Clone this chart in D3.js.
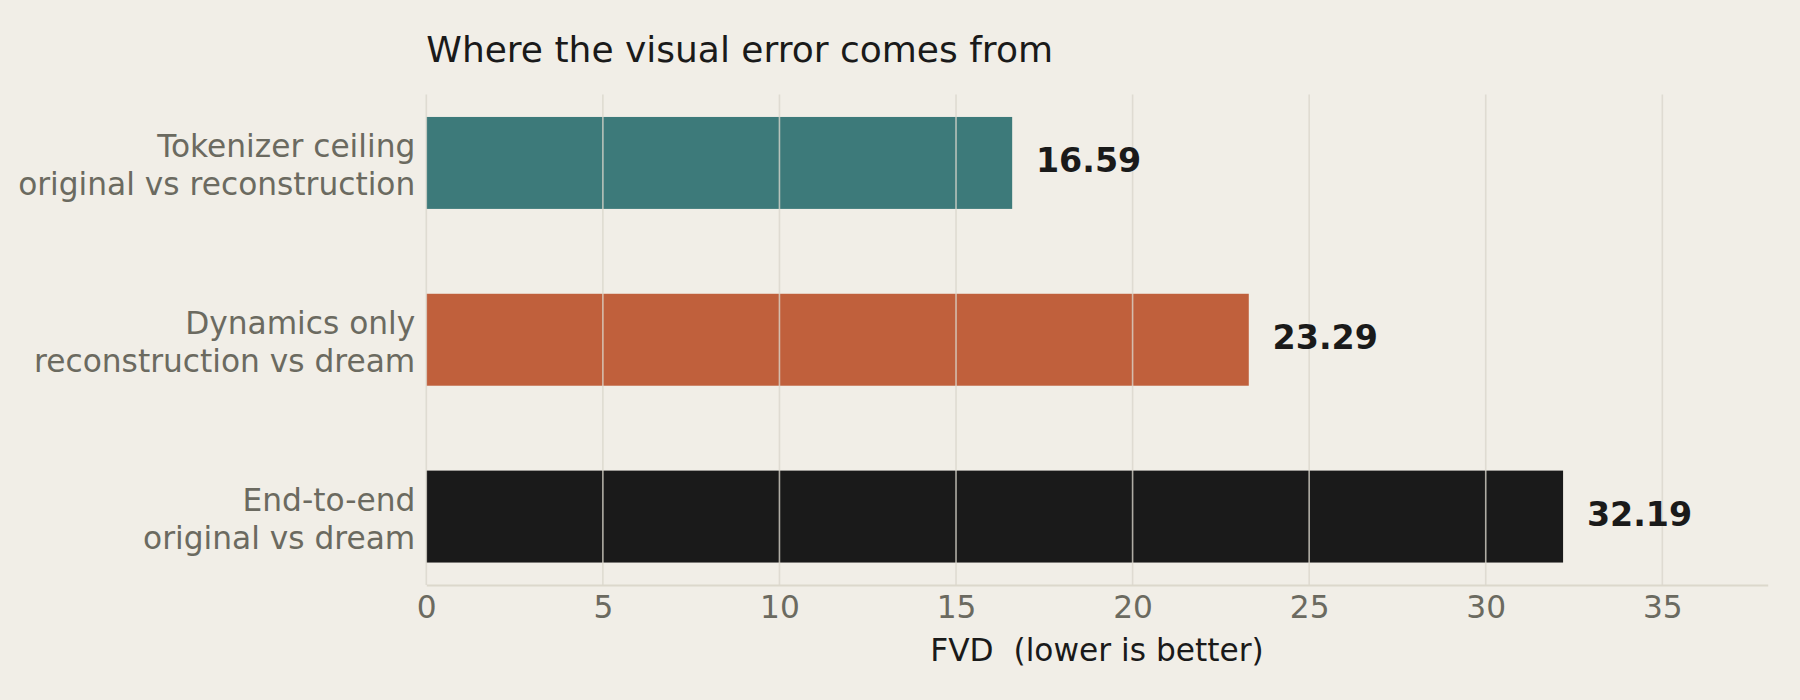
<!DOCTYPE html>
<html>
<head>
<meta charset="utf-8">
<script src="https://cdn.jsdelivr.net/npm/d3@7"></script>
<style>
  html, body { margin: 0; padding: 0; background: #f1eee7; }
  svg { display: block; font-family: "DejaVu Sans", sans-serif; }
</style>
</head>
<body>
<svg width="1800" height="700"></svg>
<script>
const categories = ["Tokenizer ceiling", "Dynamics only", "End-to-end"];
const subtitles = ["original vs reconstruction", "reconstruction vs dream", "original vs dream"];
const fvd = [16.59, 23.29, 32.19];
const barColors = ["#3d7a7a", "#c0603c", "#1a1a1a"];
const xTicks = [0, 5, 10, 15, 20, 25, 30, 35];

const svg = d3.select("svg"),
  margin = { top: 94.5, right: 32.3, bottom: 115, left: 426.3 },
  width = 1800 - margin.left - margin.right,
  height = 700 - margin.top - margin.bottom;

svg.append("rect").attr("width", 1800).attr("height", 700).attr("fill", "#f1eee7");

// xlim is max * 1.18, like the original
const xScale = d3.scaleLinear()
  .domain([0, d3.max(fvd) * 1.18])
  .range([0, width]);

const yScale = d3.scaleBand()
  .domain(categories)
  .range([0, height])
  .paddingInner(0.48)
  .paddingOuter(0.127);

const g = svg.append("g")
  .attr("transform", "translate(" + margin.left + "," + margin.top + ")");

// bars
g.selectAll(".bar")
  .data(categories)
  .enter().append("rect")
  .attr("class", "bar")
  .attr("x", 0)
  .attr("y", d => yScale(d))
  .attr("width", (d, i) => xScale(fvd[i]))
  .attr("height", yScale.bandwidth())
  .attr("fill", (d, i) => barColors[i]);

// grid drawn over the bars
g.append("g")
  .selectAll("line")
  .data(xTicks)
  .enter().append("line")
  .attr("x1", d => xScale(d))
  .attr("x2", d => xScale(d))
  .attr("y1", 0)
  .attr("y2", height)
  .attr("stroke", "#dad6cc")
  .attr("stroke-opacity", 0.78)
  .attr("stroke-width", 1.6);

// x axis
const xAxis = d3.axisBottom(xScale).tickValues(xTicks).tickSize(0).tickPadding(10);
const xg = g.append("g")
  .attr("transform", "translate(0," + height + ")")
  .call(xAxis);
xg.select(".domain").attr("stroke", "#dcd8cc").attr("stroke-width", 2.2);
xg.selectAll("text")
  .attr("dy", 0)
  .attr("y", 33)
  .attr("fill", "#6b6a60")
  .style("font-size", "31.25px")
  .style("font-family", "DejaVu Sans");

// category labels, two lines each
const labels = g.append("g")
  .selectAll("text")
  .data(categories)
  .enter().append("text")
  .attr("text-anchor", "end")
  .attr("fill", "#6b6a60")
  .style("font-size", "31.25px");
labels.append("tspan")
  .attr("x", -11)
  .attr("y", d => yScale(d) + yScale.bandwidth() / 2 - 5.6)
  .text(d => d);
labels.append("tspan")
  .attr("x", -11)
  .attr("y", d => yScale(d) + yScale.bandwidth() / 2 + 32)
  .text((d, i) => subtitles[i]);

// value labels
g.selectAll(".value")
  .data(categories)
  .enter().append("text")
  .attr("class", "value")
  .attr("x", (d, i) => xScale(fvd[i]) + 23.8)
  .attr("y", d => yScale(d) + yScale.bandwidth() / 2 + 9)
  .attr("fill", "#1a1a1a")
  .style("font-size", "33.3px")
  .style("font-weight", "bold")
  .text((d, i) => fvd[i].toFixed(2));

// axis title
g.append("text")
  .attr("x", width / 2)
  .attr("y", height + 75.5)
  .attr("text-anchor", "middle")
  .attr("fill", "#1a1a1a")
  .style("font-size", "31.25px")
  .style("white-space", "pre")
  .text("FVD  (lower is better)");

// chart title
svg.append("text")
  .attr("x", margin.left)
  .attr("y", 61.7)
  .attr("fill", "#1a1a1a")
  .style("font-size", "36px")
  .text("Where the visual error comes from");
</script>
</body>
</html>
